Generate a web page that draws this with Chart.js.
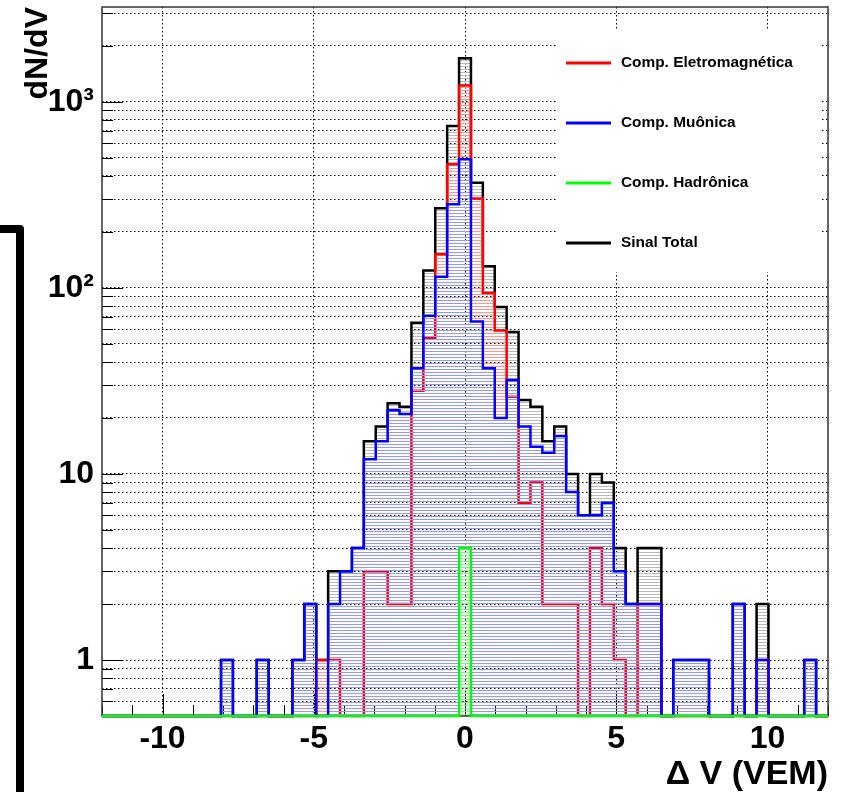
<!DOCTYPE html>
<html>
<head>
<meta charset="utf-8">
<script src="https://cdn.jsdelivr.net/npm/chart.js@4.4.1/dist/chart.umd.min.js"></script>
<style>
  html, body { margin: 0; padding: 0; background: #fff; }
  #wrap { width: 842px; height: 792px; position: relative; }
</style>
</head>
<body>
<div id="wrap"><canvas id="myChart"></canvas></div>
<script>
const X_MIN = -12, X_MAX = 12, N_BINS = 61
const Y_MIN = 0.5, Y_MAX = 3240
const FONT = '"Liberation Sans", Arial, Helvetica, sans-serif'

// contagens por bin, 61 bins de -12 a 12 VEM
const sinalTotal = [
  0, 0, 0, 0, 0, 0, 0, 0, 0, 0,
  1, 0, 0, 1, 0, 0, 1, 2, 1, 3,
  3, 4, 15, 18, 24, 23, 65, 124, 268, 743,
  1718,
  368, 131, 79, 58, 25, 23, 15, 18, 10, 6,
  10, 9, 4, 2, 4, 4, 0, 1, 1, 1,
  0, 0, 2, 0, 2, 0, 0, 0, 1, 0
]
const compEletro = [
  0, 0, 0, 0, 0, 0, 0, 0, 0, 0,
  0, 0, 0, 0, 0, 0, 0, 0, 1, 1,
  0, 0, 3, 3, 2, 2, 28, 54, 152, 462,
  1225,
  303, 94, 59, 26, 7, 9, 2, 2, 2, 0,
  4, 2, 1, 0, 2, 2, 0, 0, 0, 0,
  0, 0, 0, 0, 1, 0, 0, 0, 0, 0
]
const compMuonica = [
  0, 0, 0, 0, 0, 0, 0, 0, 0, 0,
  1, 0, 0, 1, 0, 0, 1, 2, 0, 2,
  3, 4, 12, 15, 22, 21, 37, 71, 115, 282,
  492,
  66, 37, 20, 32, 18, 14, 13, 16, 8, 6,
  6, 7, 3, 2, 2, 2, 0, 1, 1, 1,
  0, 0, 2, 0, 1, 0, 0, 0, 1, 0
]
const compHadronica = [
  0, 0, 0, 0, 0, 0, 0, 0, 0, 0,
  0, 0, 0, 0, 0, 0, 0, 0, 0, 0,
  0, 0, 0, 0, 0, 0, 0, 0, 0, 0,
  4,
  0, 0, 0, 0, 0, 0, 0, 0, 0, 0,
  0, 0, 0, 0, 0, 0, 0, 0, 0, 0,
  0, 0, 0, 0, 0, 0, 0, 0, 0, 0
]

const legendLabels = ['Comp. Eletromagnética', 'Comp. Muônica', 'Comp. Hadrônica', 'Sinal Total']
const legendColors = ['#ff0000', '#0000ff', '#00ff00', '#000000']

const xTicks = [-10, -5, 0, 5, 10]
const yGrid = [0.6, 0.7, 0.8, 0.9, 1, 2, 3, 4, 5, 6, 7, 8, 9,
  10, 20, 30, 40, 50, 60, 70, 80, 90,
  100, 200, 300, 400, 500, 600, 700, 800, 900, 1000, 2000, 3000]
const yMajor = [1, 10, 100, 1000]
const yLabels = ['1', '10', '10²', '10³']

const ctx = document.getElementById('myChart').getContext('2d')

function histPoints(counts) {
  const w = (X_MAX - X_MIN) / N_BINS
  const pts = [{x: X_MIN, y: Y_MIN}]
  counts.forEach((c, i) => {
    const v = c > 0 ? c : Y_MIN
    pts.push({x: X_MIN + i * w, y: v}, {x: X_MIN + (i + 1) * w, y: v})
  })
  pts.push({x: X_MAX, y: Y_MIN})
  return pts
}

function hatch(color) {
  const c = document.createElement('canvas')
  c.width = 8
  c.height = 3
  const g = c.getContext('2d')
  g.fillStyle = color
  g.fillRect(0, 0, 8, 1)
  return ctx.createPattern(c, 'repeat')
}

function line(x1, y1, x2, y2) {
  ctx.beginPath()
  ctx.moveTo(x1, y1)
  ctx.lineTo(x2, y2)
  ctx.stroke()
}

const rootFrame = {
  id: 'rootFrame',
  beforeDatasetsDraw(chart) {
    const a = chart.chartArea
    const x = chart.scales.x, y = chart.scales.y
    ctx.save()
    ctx.strokeStyle = '#000'
    ctx.lineWidth = 1
    for (let v = -12; v <= 12; v++) {
      const px = Math.round(x.getPixelForValue(v)) + 0.5
      line(px, a.bottom, px, a.bottom - (v % 5 === 0 ? 22 : 11))
    }
    yGrid.forEach(v => {
      const py = Math.round(y.getPixelForValue(v)) + 0.5
      line(a.left, py, a.left + (yMajor.includes(v) ? 21 : 11), py)
    })
    ctx.lineWidth = 1.5
    ctx.strokeStyle = '#333'
    ctx.strokeRect(a.left, a.top, a.right - a.left, a.bottom - a.top)
    ctx.restore()
  },
  afterDraw(chart) {
    ctx.save()
    // caixa da legenda
    ctx.fillStyle = '#fff'
    ctx.fillRect(556, 31, 266, 241)
    ctx.font = 'bold 15.4px ' + FONT
    ctx.textBaseline = 'middle'
    legendLabels.forEach((t, i) => {
      const ly = 63 + i * 60
      ctx.strokeStyle = legendColors[i]
      ctx.lineWidth = 3
      line(566, ly, 611, ly)
      ctx.fillStyle = '#000'
      ctx.fillText(t, 621, ly)
    })
    // traço preto na margem esquerda
    ctx.strokeStyle = '#000'
    ctx.lineWidth = 8
    ctx.lineJoin = 'round'
    ctx.beginPath()
    ctx.moveTo(-5, 229)
    ctx.lineTo(20, 229)
    ctx.lineTo(20, 800)
    ctx.stroke()
    ctx.restore()
  }
}

const datasets = [
  {label: 'Sinal Total', data: histPoints(sinalTotal), borderColor: '#000000',
    backgroundColor: hatch('rgb(185,185,185)'), order: 4},
  {label: 'Comp. Eletromagnética', data: histPoints(compEletro), borderColor: '#ff0000',
    backgroundColor: hatch('rgb(255,150,150)'), order: 3},
  {label: 'Comp. Muônica', data: histPoints(compMuonica), borderColor: '#0000ff',
    backgroundColor: hatch('rgb(150,150,255)'), order: 2},
  {label: 'Comp. Hadrônica', data: histPoints(compHadronica), borderColor: '#00ff00',
    backgroundColor: hatch('rgb(120,255,120)'), order: 1}
].map(d => Object.assign(d, {
  borderWidth: 2.5, fill: 'start', pointRadius: 0, tension: 0,
  borderJoinStyle: 'miter', clip: 4
}))

const myChart = new Chart(ctx, {
  type: 'line',
  data: {datasets: datasets},
  options: {
    responsive: true,
    maintainAspectRatio: false,
    animation: false,
    layout: {padding: {top: 7, right: 14, left: 0, bottom: 0}},
    plugins: {legend: {display: false}, tooltip: {enabled: false}},
    scales: {
      x: {
        type: 'linear',
        min: X_MIN,
        max: X_MAX,
        afterBuildTicks: s => { s.ticks = xTicks.map(v => ({value: v})) },
        afterFit: s => {
          s.height = 76
          s.paddingLeft = 0
          s.paddingRight = 0
        },
        grid: {color: '#000', lineWidth: 1, drawTicks: false},
        border: {display: false, dash: [1.5, 2.5]},
        ticks: {
          color: '#000', padding: 4, autoSkip: false, maxRotation: 0,
          font: {family: FONT, size: 32, weight: 'bold'}
        },
        title: {
          display: true, text: 'Δ V (VEM)', align: 'end', color: '#000',
          font: {family: FONT, size: 34, weight: 'bold', lineHeight: 1},
          padding: {top: 0, bottom: 0}
        }
      },
      y: {
        type: 'logarithmic',
        min: Y_MIN,
        max: Y_MAX,
        afterBuildTicks: s => { s.ticks = yGrid.map(v => ({value: v, major: yMajor.includes(v)})) },
        afterFit: s => {
          s.width = 102
          s.paddingTop = 0
          s.paddingBottom = 0
        },
        grid: {color: '#000', lineWidth: 1, drawTicks: false},
        border: {display: false, dash: [1.5, 2.5]},
        ticks: {
          color: '#000', padding: 8, autoSkip: false,
          font: {family: FONT, size: 32, weight: 'bold'},
          callback: v => {
            const i = yMajor.indexOf(v)
            return i >= 0 ? yLabels[i] : ''
          }
        },
        title: {
          display: true, text: 'dN/dV', align: 'end', color: '#000',
          font: {family: FONT, size: 32, weight: 'bold', lineHeight: 1.2},
          padding: {top: 19, bottom: 0}
        }
      }
    }
  },
  plugins: [rootFrame]
})
</script>
</body>
</html>
